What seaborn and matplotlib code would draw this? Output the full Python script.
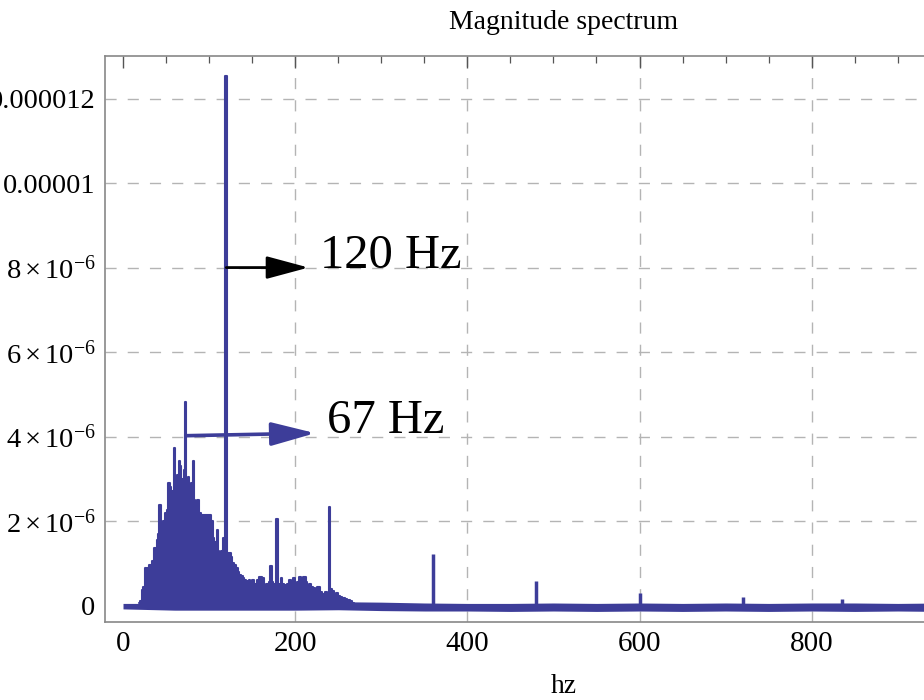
import matplotlib
matplotlib.use("Agg")
import matplotlib.pyplot as plt
import seaborn as sns
import pandas as pd
from matplotlib.ticker import MultipleLocator, FixedLocator, FixedFormatter

# ---------------- data (magnitudes in units of 1e-6) ----------------
clu_f = [18, 21, 22, 24, 26, 27.5, 29, 31, 33, 35, 37, 38.5, 40, 41.5, 43, 44.5, 46, 48,
         50, 52, 53.5, 55, 56.5, 58, 59.3, 60.5, 62, 64, 65.5, 67, 68.5, 70, 71, 72.5,
         74, 76, 78, 80, 81.8, 83, 85, 87.5, 89.5, 92, 95, 98, 101, 103, 105, 106.5,
         108, 109.6, 111, 113, 115, 116.5, 118, 120, 122, 124, 126, 128, 130, 132,
         134, 136, 138, 140, 142, 143.6, 145, 147, 149, 151, 153, 155, 157, 159, 161,
         163, 165, 167, 169, 170.5, 172, 173.5, 175, 177, 179.5, 181, 183, 184.5, 186,
         188, 190, 192, 194, 196, 199, 201.5, 203, 205, 208, 211, 213, 214.5, 217,
         220, 222, 224, 227, 230, 233, 236, 238, 239.8, 241.5, 244, 246, 248, 251,
         253.5, 256, 259, 262, 265, 268]
clu_v = [0.05, 0.10, 0.36, 0.45, 0.88, 0.62, 0.90, 0.95, 0.97, 1.05, 1.37, 1.15, 1.55,
         1.70, 2.37, 1.80, 1.90, 2.00, 2.18, 2.25, 2.90, 2.80, 2.55, 2.70, 3.74, 2.80,
         2.96, 3.10, 3.43, 3.30, 3.00, 2.90, 3.20, 4.81, 3.00, 3.05, 2.70, 2.90, 3.43,
         2.50, 2.31, 2.50, 2.20, 2.14, 2.14, 2.14, 2.14, 2.00, 1.60, 1.48, 1.50, 1.79,
         1.30, 1.24, 1.30, 1.60, 1.35, 12.53, 1.25, 1.24, 1.15, 1.00, 0.95, 0.89, 0.80,
         0.72, 0.70, 0.65, 0.60, 0.53, 0.58, 0.60, 0.55, 0.60, 0.50, 0.37, 0.60, 0.67,
         0.68, 0.65, 0.45, 0.50, 0.45, 0.55, 0.93, 0.55, 0.50, 0.45, 2.06, 0.50, 0.45,
         0.65, 0.50, 0.48, 0.45, 0.50, 0.60, 0.55, 0.65, 0.45, 0.55, 0.67, 0.60, 0.67,
         0.55, 0.45, 0.50, 0.45, 0.42, 0.40, 0.45, 0.33, 0.28, 0.32, 0.30, 2.34, 0.40,
         0.35, 0.25, 0.30, 0.22, 0.21, 0.18, 0.15, 0.12, 0.10, 0.06]

harm_f = [360, 480, 600, 720, 835]
harm_v = [1.22, 0.58, 0.30, 0.19, 0.15]

floor_f = [0, 20, 60, 100, 150, 200, 250, 300, 350, 400, 450, 500, 550, 600, 650,
           700, 750, 800, 850, 900, 950, 1000, 1044]
floor_hi = [0.05, 0.05, 0.06, 0.06, 0.06, 0.07, 0.09, 0.08, 0.06, 0.05, 0.05, 0.06,
            0.05, 0.06, 0.05, 0.06, 0.05, 0.06, 0.06, 0.05, 0.06, 0.05, 0.05]
floor_lo = [-0.08, -0.09, -0.11, -0.11, -0.11, -0.11, -0.10, -0.12, -0.13, -0.13,
            -0.14, -0.13, -0.14, -0.13, -0.14, -0.13, -0.14, -0.13, -0.14, -0.13,
            -0.14, -0.13, -0.13]

xtick_vals = [0, 200, 400, 600, 800, 1000]
xtick_labels = ["0", "200", "400", "600", "800", ""]
ytick_vals = [0, 2, 4, 6, 8, 10, 12]
ytick_labels = ["0", r"$2\times10^{-6}$", r"$4\times10^{-6}$", r"$6\times10^{-6}$",
                r"$8\times10^{-6}$", "0.00001", "0.000012"]

title = "Magnitude spectrum"
xlabel = "hz"
ann_big = ("120 Hz", 120, 8.0)
ann_small = ("67 Hz", 73, 4.02)

# ---------------- style ----------------
BLUE = "#3D3D99"
sns.set_theme(style="white")
plt.rcParams["font.family"] = ["Liberation Serif", "DejaVu Serif"]
plt.rcParams["mathtext.fontset"] = "custom"
plt.rcParams["mathtext.rm"] = "Liberation Serif"
plt.rcParams["mathtext.it"] = "Liberation Serif:italic"
plt.rcParams["text.color"] = "black"
plt.rcParams["axes.labelcolor"] = "black"
plt.rcParams["axes.titlecolor"] = "black"

fig = plt.figure(figsize=(9.24, 7.0), dpi=100)
ax = fig.add_axes([104.5 / 924, 78 / 700, (1023.5 - 104.5) / 924, (622 - 55.5) / 700])

# grid
for gx in [200, 400, 600, 800, 1000]:
    ax.axvline(gx, color="#b4b4b4", lw=1.0, ls=(0, (8, 8)), zorder=0)
for gy in [2, 4, 6, 8, 10, 12]:
    ax.axhline(gy, color="#b4b4b4", lw=1.0, ls=(0, (8, 8)), zorder=0)

# spectrum
ax.fill_between(floor_f, floor_lo, floor_hi, color=BLUE, lw=0, zorder=2)
ax.fill_between(clu_f, 0, clu_v, step="mid", color=BLUE, lw=0, zorder=2)
df = pd.DataFrame({"f": clu_f, "v": clu_v})
sns.lineplot(data=df, x="f", y="v", drawstyle="steps-mid", color=BLUE, lw=1.5,
             estimator=None, sort=False, ax=ax, zorder=3)
ax.vlines(harm_f, 0, harm_v, color=BLUE, lw=2.5, zorder=3)

# annotations
ax.annotate("", xy=(215.5, ann_big[2]), xytext=(ann_big[1], ann_big[2]),
            arrowprops=dict(arrowstyle="-|>,head_length=1.3,head_width=0.35",
                            color="black", lw=2, shrinkA=0, shrinkB=0,
                            mutation_scale=20), zorder=5)
ax.text(229, ann_big[2], ann_big[0], fontsize=35, ha="left", va="baseline",
        color="black", zorder=5)
ax.annotate("", xy=(223.3, 4.08), xytext=(ann_small[1], ann_small[2]),
            arrowprops=dict(arrowstyle="-|>,head_length=1.35,head_width=0.36",
                            color=BLUE, lw=2.6, shrinkA=0, shrinkB=0,
                            mutation_scale=20), zorder=5)
ax.text(236.8, 4.08, ann_small[0], fontsize=35, ha="left", va="baseline",
        color="black", zorder=5)

# axes
ax.set_xlim(-21.5, 1046)
ax.set_ylim(-0.39, 13.02)
ax.xaxis.set_major_locator(FixedLocator(xtick_vals))
ax.xaxis.set_major_formatter(FixedFormatter(xtick_labels))
ax.xaxis.set_minor_locator(MultipleLocator(50))
ax.yaxis.set_major_locator(FixedLocator(ytick_vals))
ax.yaxis.set_major_formatter(FixedFormatter(ytick_labels))
ax.yaxis.set_minor_locator(MultipleLocator(0.5))
ax.tick_params(which="both", direction="in", top=True, right=True,
               color="#555555", labelcolor="black")
ax.tick_params(which="major", length=8.3, width=1.0, pad=6.5)
ax.tick_params(axis="x", which="major", labelsize=21)
ax.tick_params(axis="y", which="major", labelsize=20.5)
ax.tick_params(which="minor", length=5, width=0.9)
for s in ax.spines.values():
    s.set_color("#888888")
    s.set_linewidth(1.2)
ax.set_xlabel(xlabel, fontsize=20, labelpad=12)
ax.set_ylabel("")
ax.set_title(title, fontsize=20, pad=19)

fig.savefig("out.png", dpi=100)
